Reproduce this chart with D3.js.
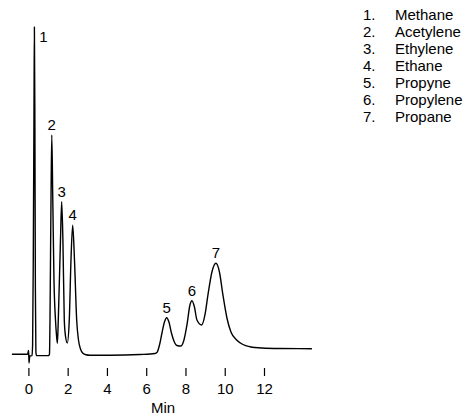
<!DOCTYPE html>
<html>
<head>
<meta charset="utf-8">
<script src="https://cdn.jsdelivr.net/npm/d3@7/dist/d3.min.js"></script>
<style>
  html, body { margin: 0; padding: 0; background: #fff; }
  svg { display: block; font-family: "Liberation Sans", Arial, sans-serif; }
</style>
</head>
<body>
<svg id="chart" width="468" height="415"></svg>
<script>
// Chromatogram trace: retention time (min) and detector response (% of peak 1)
const timeMin = [-0.84, -0.041, 0.010, 0.031, 0.071, 0.183, 0.214, 0.249, 0.285, 0.305, 0.331, 0.356, 0.382, 0.412,
  1.034, 1.074, 1.100, 1.151, 1.191, 1.242, 1.303, 1.380, 1.431, 1.477, 1.522, 1.634, 1.695, 1.757, 1.828, 1.889, 1.981,
  2.082, 2.169, 2.256, 2.347, 2.459, 2.551, 2.653, 2.780, 2.933, 3.136, 4.155, 5.682, 6.446, 6.548, 6.701, 6.802, 6.930,
  7.042, 7.159, 7.286, 7.413, 7.566, 7.770, 7.923, 8.075, 8.228, 8.330, 8.457, 8.585, 8.824, 8.992, 9.145, 9.348, 9.552,
  9.730, 9.908, 10.112, 10.316, 10.606, 10.927, 11.283, 11.894, 12.811, 14.440];
const response = [0.21, 0.21, 1.37, -2.44, -0.30, -0.21, 3, 30, 75, 100, 70, 20, 1, -0.2,
  -0.15, 0.30, 10.67, 47.3, 67.1, 47.3, 22.9, 10.67, 6.10, 3.57, 10.67, 35.1, 46.7, 35.1, 10.67, 5.79, 3.66,
  10.67, 29.0, 39.6, 29.0, 10.67, 4.57, 1.83, 0.52, 0.06, -0.09, -0.09, 0.15, 0.46, 0.76, 3.66, 6.71, 10.06,
  11.37, 10.06, 6.71, 4.27, 2.90, 2.74, 4.57, 9.15, 15.24, 16.55, 14.63, 10.67, 9.15, 12.2, 18.3, 25.3, 27.96,
  25.3, 18.3, 11.28, 7.01, 4.57, 3.20, 2.53, 2.13, 1.98, 1.92];

const peakNumbers = [1, 2, 3, 4, 5, 6, 7];
const compoundNames = ["Methane", "Acetylene", "Ethylene", "Ethane", "Propyne", "Propylene", "Propane"];
const peakTimes = [0.305, 1.191, 1.695, 2.256, 7.042, 8.330, 9.552];
const peakHeights = [100, 67.1, 46.7, 39.6, 11.37, 16.55, 27.96];
const xTicks = [0, 2, 4, 6, 8, 10, 12];
const xLabel = "Min";

const svg = d3.select("#chart");
const x = d3.scaleLinear().domain([0, 12]).range([28.4, 264]);
const y = d3.scaleLinear().domain([0, 100]).range([355, 27]);

const trace = timeMin.map((t, i) => ({ t, v: response[i] }));
const line = d3.line().x(d => x(d.t)).y(d => y(d.v)).curve(d3.curveMonotoneX);

svg.append("path")
  .datum(trace)
  .attr("d", line)
  .attr("fill", "none")
  .attr("stroke", "#000")
  .attr("stroke-width", 1.4)
  .attr("stroke-linejoin", "round");

// x axis: ticks only, no domain line
const axis = svg.append("g")
  .attr("transform", "translate(0,368)")
  .call(d3.axisBottom(x).tickValues(xTicks).tickSize(8).tickPadding(7).tickFormat(d3.format("d")));
axis.select(".domain").remove();
axis.selectAll(".tick line").attr("stroke", "#000").attr("stroke-width", 1.2);
axis.selectAll(".tick text")
  .attr("fill", "#000")
  .style("font-family", "'Liberation Sans', Arial, sans-serif")
  .style("font-size", "15px");

svg.append("text")
  .attr("x", 163)
  .attr("y", 413)
  .attr("text-anchor", "middle")
  .style("font-size", "15px")
  .attr("fill", "#000")
  .text(xLabel);

// peak labels
svg.selectAll("text.peak")
  .data(peakNumbers)
  .join("text")
  .attr("class", "peak")
  .attr("x", (d, i) => x(peakTimes[i]) + (i === 0 ? 9 : 0))
  .attr("y", (d, i) => i === 0 ? y(peakHeights[i]) + 15 : y(peakHeights[i]) - 5)
  .attr("text-anchor", "middle")
  .style("font-size", "15px")
  .attr("fill", "#000")
  .text(d => d);

// legend
const legend = svg.append("g").attr("class", "legend");
legend.selectAll("text.num")
  .data(peakNumbers)
  .join("text")
  .attr("class", "num")
  .attr("x", 363)
  .attr("y", (d, i) => 19.5 + i * 17)
  .style("font-size", "15px")
  .attr("fill", "#000")
  .text(d => d + ".");
legend.selectAll("text.name")
  .data(compoundNames)
  .join("text")
  .attr("class", "name")
  .attr("x", 395)
  .attr("y", (d, i) => 19.5 + i * 17)
  .style("font-size", "15px")
  .attr("fill", "#000")
  .text(d => d);
</script>
</body>
</html>
